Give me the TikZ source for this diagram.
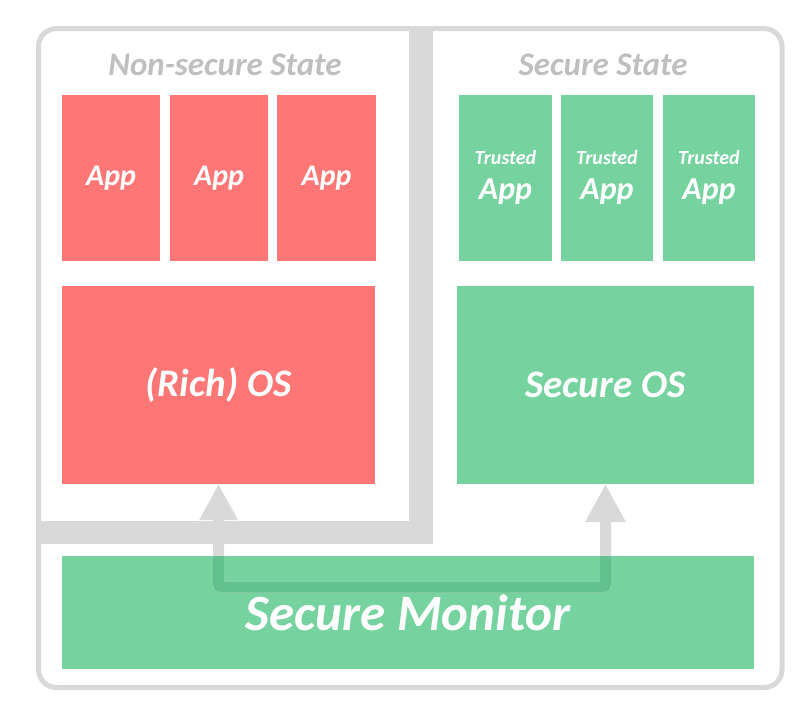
\documentclass[tikz,border=0pt]{standalone}
\usepackage{fontspec}
\setmainfont{Carlito}
\usetikzlibrary{arrows.meta}
\definecolor{rd}{HTML}{FF7676}
\definecolor{gn}{HTML}{76D3A0}
\definecolor{gnd}{HTML}{62C18E}
\definecolor{frame}{HTML}{D9D9D9}
\definecolor{ttl}{HTML}{BFBFBF}
\tikzset{
  box/.style={inner sep=0pt, outer sep=0pt, draw=none, text=white, font=\bfseries\itshape},
  redbox/.style={box, fill=rd},
  greenbox/.style={box, fill=gn},
  fs/.style={font=\bfseries\itshape\fontsize{#1}{#1}\selectfont},
  title/.style={text=ttl, anchor=base, inner sep=0pt, fs=33},
  lbl/.style={text=white, anchor=base, inner sep=0pt},
  switch/.style={line width=11pt, rounded corners=3pt,
     {Triangle[width=36pt,length=36pt]}-{Triangle[width=38pt,length=38pt]}}
}
\begin{document}
\begin{tikzpicture}[x=1pt,y=-1pt]
\useasboundingbox (0,0) rectangle (805,705);
% outer frame
\draw[frame, line width=5pt, rounded corners=18pt] (38.5,28.5) rectangle (782,687.5);
% boxes
\node[redbox, minimum width=98, minimum height=166, fs=30] (a1) at (111,178) {App};
\node[redbox, minimum width=98, minimum height=166, fs=30] (a2) at (219,178) {App};
\node[redbox, minimum width=99, minimum height=166, fs=30] (a3) at (326.5,178) {App};
\node[greenbox, minimum width=93, minimum height=166] (t1) at (505.5,178) {};
\node[greenbox, minimum width=92, minimum height=166] (t2) at (607,178) {};
\node[greenbox, minimum width=92, minimum height=166] (t3) at (709,178) {};
\foreach \t in {t1,t2,t3}{
  \node[lbl, fs=20] at ([yshift=14pt]\t.center) {Trusted};
  \node[lbl, fs=32] at ([yshift=-21pt]\t.center) {App};
}
\node[redbox, minimum width=313, minimum height=198, fs=39] (rich) at (218.5,385) {(Rich) OS};
\node[greenbox, minimum width=297, minimum height=198, fs=39] (sos) at (605.5,385) {Secure OS};
\node[greenbox, minimum width=692, minimum height=113, fs=51] (mon) at (408,612.5) {Secure Monitor};
% titles
\node[title] (nst) at (225,75) {Non-secure State};
\node[title] (sst) at (603,75) {Secure State};
% world switch arrow
\coordinate (bend) at (400,587);
\draw[switch, frame] (rich.south) |- (bend) -| (sos.south);
\begin{scope}
  \clip (mon.south west) rectangle (mon.north east);
  \draw[gnd, line width=11pt, rounded corners=3pt] (rich.south) |- (bend) -| (sos.south);
\end{scope}
% non-secure frame (thick right and bottom edges)
\fill[frame] (409,26) rectangle (433,544);
\fill[frame] (36,521) rectangle (433,544);
\end{tikzpicture}
\end{document}
